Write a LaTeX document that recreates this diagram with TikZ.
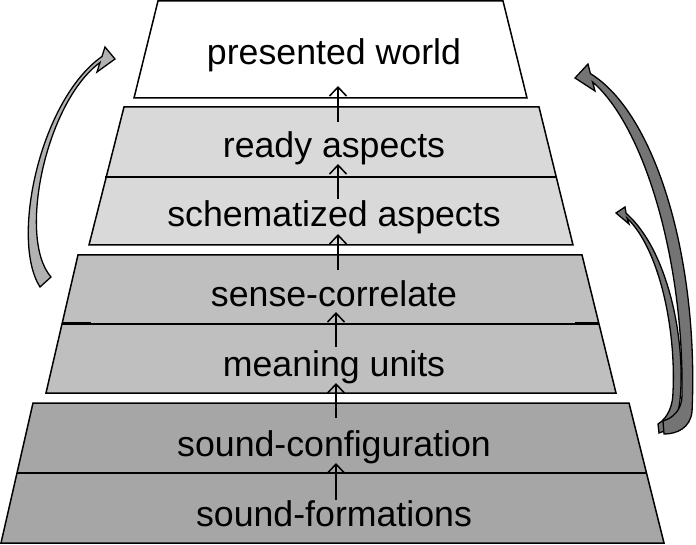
\documentclass[tikz,border=0pt]{standalone}
\usepackage{fontspec}
\setmainfont{Liberation Sans}
\usetikzlibrary{arrows.meta}
\definecolor{layA}{HTML}{D9D9D9}
\definecolor{layB}{HTML}{BFBFBF}
\definecolor{layC}{HTML}{A6A6A6}
\definecolor{arrL}{HTML}{B2B2B2}
\definecolor{arrR}{HTML}{747474}
\tikzset{
  layer/.style={draw=black, line width=1.5pt, line join=miter},
  divider/.style={draw=black, line width=1.3pt},
  stub/.style={draw=black, line width=2.3pt},
  lbl/.style={anchor=base, inner sep=0pt, font=\fontsize{35.7}{40}\selectfont},
  uparrow/.style={draw=black, line width=1.5pt, -{Straight Barb[length=9pt,width=17pt]}},
  bentarrow/.style={draw=black, line width=1.3pt, line join=miter}
}
\begin{document}
\begin{tikzpicture}[x=1pt,y=-1pt]
\useasboundingbox (0,0) rectangle (696,545);
% layers
\path[layer, fill=white] (158,1) -- (503,1) -- (527,98) -- (134,98) -- cycle;
\path[layer, fill=layA] (124,107) -- (539,107) -- (573,245) -- (89,245) -- cycle;
\path[divider] (105,177) -- (557,177);
\path[layer, fill=layB] (78,255) -- (582,255) -- (616,393) -- (46,393) -- cycle;
\path[divider] (62,324) -- (599,324);
\path[stub] (62,323.5) -- (91,323.5);
\path[stub] (575,323.5) -- (599,323.5);
\path[layer, fill=layC] (33,403) -- (629,403) -- (664,543) -- (1,543) -- cycle;
\path[divider] (17,473) -- (646,473);
% labels
\node[lbl] (pw) at (334,65) {presented world};
\node[lbl] (ra) at (334,158) {ready aspects};
\node[lbl] (sa) at (334,227) {schematized aspects};
\node[lbl] (sc) at (334,307) {sense-correlate};
\node[lbl] (mu) at (334,376) {meaning units};
\node[lbl] (cf) at (334,456) {sound-configuration};
\node[lbl] (sf) at (334,526) {sound-formations};
% small up arrows
\coordinate (a1s) at (338,122); \coordinate (a1e) at (338,86);
\coordinate (a2s) at (338,199); \coordinate (a2e) at (338,164);
\coordinate (a3s) at (338,270); \coordinate (a3e) at (338,234);
\coordinate (a4s) at (336,347); \coordinate (a4e) at (336,312);
\coordinate (a5s) at (336,418); \coordinate (a5e) at (336,383);
\coordinate (a6s) at (336,500); \coordinate (a6e) at (336,463);
\draw[uparrow] (a1s) -- (a1e);
\draw[uparrow] (a2s) -- (a2e);
\draw[uparrow] (a3s) -- (a3e);
\draw[uparrow] (a4s) -- (a4e);
\draw[uparrow] (a5s) -- (a5e);
\draw[uparrow] (a6s) -- (a6e);
% left curved arrow
\path[bentarrow, fill=arrL] (40,287) .. controls (10,240) and (40,100) .. (102,56.5)
  -- (105,47) -- (115,59) -- (97,72) -- (100,62.5)
  .. controls (46,102) and (17,238) .. (51,277) -- cycle;
% right small curved arrow
\path[bentarrow, fill=arrR] (626.1,213.3) .. controls (668,250) and (686,340) .. (680,400)
  .. controls (678,420) and (670,430) .. (659,433) -- (658,424)
  .. controls (668,418) and (673,405) .. (673,392)
  .. controls (676,330) and (660,250) .. (627,218)
  -- (629,224) -- (616,213) -- (625,207) -- cycle;
% right big curved arrow
\path[bentarrow, fill=arrR] (590.4,73.6) .. controls (656,114) and (699,260) .. (692,412)
  .. controls (690,428) and (677,434) .. (664,434) -- (663,421)
  .. controls (673,418) and (682,410) .. (682,395)
  .. controls (684,260) and (644,126) .. (592.6,82)
  -- (595,91) -- (575,78) -- (588,64) -- cycle;
\end{tikzpicture}
\end{document}
